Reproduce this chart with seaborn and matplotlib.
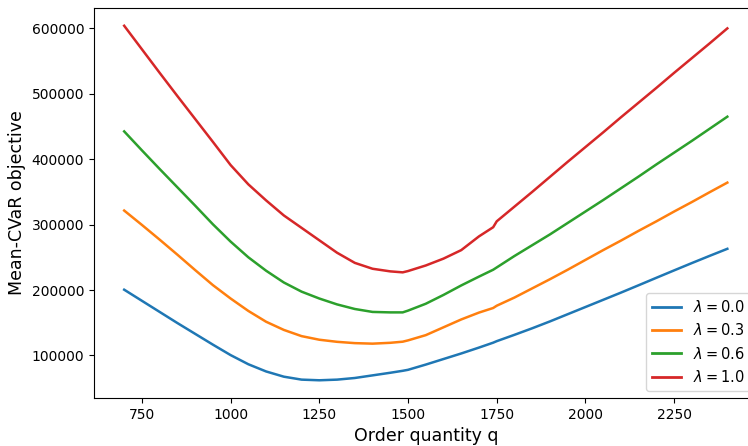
import matplotlib
matplotlib.use("Agg")
import matplotlib.pyplot as plt
import numpy as np
import pandas as pd
import seaborn as sns

# order quantities (extra points at 1485 and 1740 where the curves kink)
q = [700, 750, 800, 850, 900, 950, 1000, 1050, 1100, 1150, 1200, 1250, 1300,
     1350, 1400, 1450, 1485, 1500, 1550, 1600, 1650, 1700, 1740, 1750, 1800,
     1850, 1900, 1950, 2000, 2050, 2100, 2150, 2200, 2250, 2300, 2350, 2400]

lam_00 = [200500, 183500, 166500, 149500, 133000, 116500, 100500, 86500, 75500,
          67500, 63000, 62000, 63000, 65500, 69500, 73500, 76500, 78000, 86000,
          94500, 103000, 112000, 119500, 121800, 131500, 141500, 152000, 163000,
          174000, 185000, 196000, 207300, 218700, 230000, 241200, 252200, 263000]

lam_03 = [321500, 299500, 277000, 254000, 230500, 207500, 187000, 168000, 151500,
          139000, 129500, 124000, 120800, 118800, 118000, 119300, 121000, 123000,
          131000, 143000, 155000, 165500, 172500, 176000, 188500, 202500, 216500,
          231000, 246000, 261000, 275500, 290500, 305000, 320000, 334500, 349500,
          364200]

lam_06 = [442500, 413500, 385000, 357000, 329000, 300500, 274000, 250000, 229500,
          211500, 197500, 187000, 178000, 171000, 166500, 165800, 165800, 168500,
          179000, 192500, 207000, 220500, 231000, 234500, 252000, 268500, 285000,
          302500, 320000, 337500, 355500, 373500, 392000, 410000, 428000, 446500,
          465000]

lam_10 = [604000, 568000, 532000, 496500, 461500, 426500, 391000, 361500, 337000,
          314000, 295000, 276000, 257000, 241500, 232500, 228500, 227000, 229000,
          237500, 248000, 261000, 282000, 296000, 305000, 327500, 350000, 373000,
          396000, 418500, 441000, 464000, 486500, 509000, 532000, 554500, 577000,
          600000]

lams = ["0.0", "0.3", "0.6", "1.0"]
series = [lam_00, lam_03, lam_06, lam_10]

rows = []
for lam, vals in zip(lams, series):
    for qq, v in zip(q, vals):
        rows.append({"q": qq, "obj": v, "lam": r"$\lambda = %s$" % lam})
df = pd.DataFrame(rows)

fig = plt.figure(figsize=(7.48, 4.46), dpi=100)
ax = fig.add_axes([0.1257, 0.1076, 0.887, 0.8744])

sns.lineplot(data=df, x="q", y="obj", hue="lam", palette="tab10",
             linewidth=1.8, ax=ax, legend=False)

for i, lam in enumerate(lams):
    ax.plot([], [], color=sns.color_palette("tab10")[i], linewidth=2,
            label=r"$\lambda = %s$" % lam)
ax.legend(loc="lower right", fontsize=10.5)

ax.set_xlim(615, 2485)
ax.set_ylim(34900, 631100)
ax.set_xticks([750, 1000, 1250, 1500, 1750, 2000, 2250])
ax.ticklabel_format(axis="y", style="plain")
ax.set_xlabel("Order quantity q", fontsize=12.5)
ax.set_ylabel("Mean-CVaR objective", fontsize=12.5)

fig.savefig("out.png", dpi=100)
